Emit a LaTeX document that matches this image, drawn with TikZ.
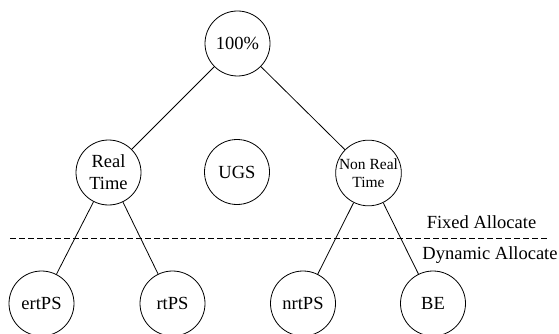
\documentclass[tikz,border=0pt]{standalone}
\usepackage{fontspec}
\setmainfont{Liberation Serif}
\begin{document}
\begin{tikzpicture}[x=1pt,y=-1pt,
  nd/.style={draw,circle,line width=0.8pt,minimum size=65pt,inner sep=0pt,align=center,font=\fontsize{18.5}{22}\selectfont},
  lk/.style={line width=0.8pt},
  lbl/.style={font=\fontsize{18.5}{20}\selectfont,inner sep=0pt}]
\useasboundingbox (0,0) rectangle (559,334);
\node[nd] (top) at (237.5,43.5) {100\%};
\node[nd] (rt) at (108.5,172.5) {Real\\Time};
\node[nd] (ugs) at (237,172) {UGS};
\node[nd,font=\fontsize{15.5}{18}\selectfont] (nrt) at (368.5,173) {Non Real\\Time};
\node[nd] (ert) at (41.5,303.5) {ertPS};
\node[nd] (rtps) at (172.5,303.5) {rtPS};
\node[nd] (nrtps) at (303,303.5) {nrtPS};
\node[nd] (be) at (433,303.5) {BE};
\draw[lk] (top) -- (rt);
\draw[lk] (top) -- (nrt);
\draw[lk] (rt) -- (ert);
\draw[lk] (rt) -- (rtps);
\draw[lk] (nrt) -- (nrtps);
\draw[lk] (nrt) -- (be);
\coordinate (dl) at (10,238.3);
\coordinate (dr) at (548,238.3);
\draw[lk,dash pattern=on 6pt off 3pt] (dl) -- (dr);
\node[lbl] (fa) at (481.5,222) {Fixed Allocate};
\node[lbl] (da) at (490,255) {Dynamic Allocate};
\end{tikzpicture}
\end{document}
